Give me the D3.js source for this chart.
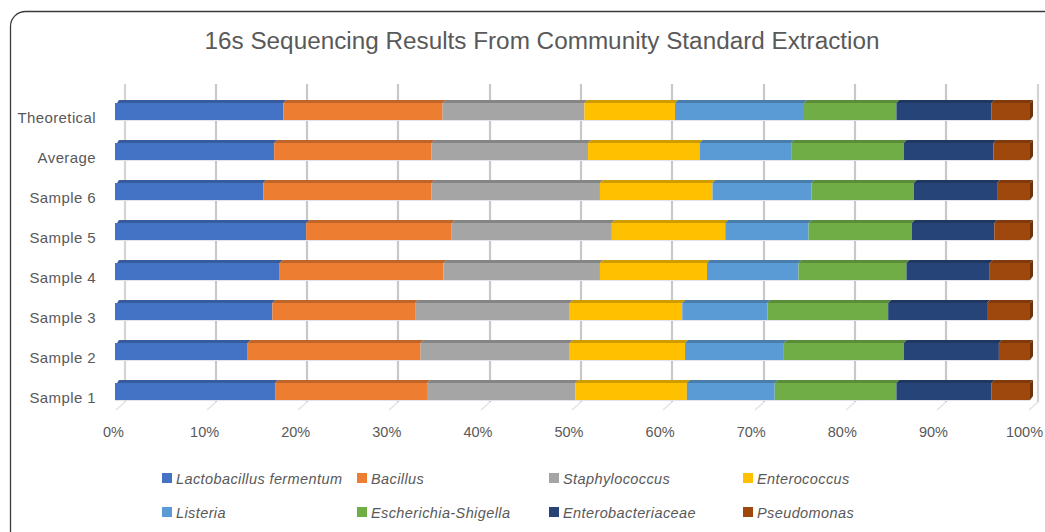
<!DOCTYPE html>
<html>
<head>
<meta charset="utf-8">
<script src="https://cdn.jsdelivr.net/npm/d3@7"></script>
<style>
  html, body { margin: 0; padding: 0; background: #fff; }
  svg { display: block; }
</style>
</head>
<body>
<svg id="chart" width="1045" height="532"></svg>
<script>
// ---- data ----
const categories = ["Theoretical", "Average", "Sample 6", "Sample 5", "Sample 4", "Sample 3", "Sample 2", "Sample 1"];
const seriesNames = ["Lactobacillus fermentum", "Bacillus", "Staphylococcus", "Enterococcus",
                     "Listeria", "Escherichia-Shigella", "Enterobacteriaceae", "Pseudomonas"];
// values per category (percent), in series order
const lactobacillus = [18.4, 17.4, 16.2, 20.9, 18.0, 17.2, 14.5, 17.5];
const bacillus      = [17.4, 17.2, 18.4, 15.9, 17.9, 15.6, 18.9, 16.6];
const staphylococcus= [15.5, 17.1, 18.4, 17.5, 17.1, 16.9, 16.3, 16.2];
const enterococcus  = [ 9.9, 12.2, 12.3, 12.4, 11.7, 12.3, 12.6, 12.2];
const listeria      = [14.1, 10.0, 10.8,  9.1, 10.0,  9.3, 10.8,  9.6];
const escherichia   = [10.1, 12.3, 11.2, 11.3, 11.8, 13.2, 13.1, 13.3];
const enterobact    = [10.4,  9.8,  9.1,  9.0,  9.1, 10.8, 10.4, 10.4];
const pseudomonas   = [ 4.2,  4.0,  3.6,  3.9,  4.4,  4.7,  3.4,  4.2];
const tickValues = [0, 10, 20, 30, 40, 50, 60, 70, 80, 90, 100];
const colors = ["#4472C4", "#ED7D31", "#A5A5A5", "#FFC000", "#5B9BD5", "#70AD47", "#264478", "#9E480E"];

const seriesValues = [lactobacillus, bacillus, staphylococcus, enterococcus, listeria, escherichia, enterobact, pseudomonas];
const table = categories.map((c, i) => {
  const row = { category: c };
  seriesNames.forEach((s, j) => row[s] = seriesValues[j][i]);
  return row;
});

const svg = d3.select("#chart");
const font = "'Liberation Sans', Arial, sans-serif";
const textColor = "#595959";

// border
svg.append("rect")
  .attr("x", 10.5).attr("y", 11.5).attr("width", 1060).attr("height", 560)
  .attr("rx", 15).attr("ry", 15)
  .attr("fill", "#fff").attr("stroke", "#3a3a3a").attr("stroke-width", 1.3);

// title
svg.append("text")
  .attr("x", 542).attr("y", 49)
  .attr("text-anchor", "middle")
  .attr("font-family", font).attr("font-size", 23).attr("fill", textColor)
  .attr("textLength", 675).attr("lengthAdjust", "spacingAndGlyphs")
  .text("16s Sequencing Results From Community Standard Extraction");

// scales
const x = d3.scaleLinear().domain([0, 100]).range([115, 1030]);
const xBack = d3.scaleLinear().domain([0, 100]).range([124.5, 1037.5]);
const xLabel = d3.scaleLinear().domain([0, 100]).range([113, 1024]);
const y = d3.scaleBand().domain(categories).range([90, 410]).padding(0);

// gridlines (back wall)
const grid = svg.append("g");
tickValues.forEach(v => {
  const gx = Math.round(xBack(v));
  grid.append("line")
    .attr("x1", gx).attr("x2", gx).attr("y1", 84).attr("y2", 402)
    .attr("stroke", (v === 0 || v === 100) ? "#d4d4d4" : "#c8c8c8").attr("stroke-width", 2.2);
  grid.append("line")
    .attr("x1", gx).attr("x2", gx - 9).attr("y1", 402).attr("y2", 410)
    .attr("stroke", "#e4e4e4").attr("stroke-width", 1.5);
});

// stacked bars
const stack = d3.stack().keys(seriesNames);
const stacked = stack(table);
const barH = 20, bevel = 3;
const bars = svg.append("g");
stacked.forEach((layer, si) => {
  const col = d3.color(colors[si]);
  const topCol = col.darker(0.6).formatHex();
  const sideCol = col.darker(1.0).formatHex();
  layer.forEach(d => {
    const cat = d.data.category;
    const top = y(cat) + (y.bandwidth() - barH) / 2;
    const x0 = x(d[0]), x1 = x(d[1]);
    // top face
    bars.append("polygon")
      .attr("points", [[x0 + (si === 0 ? 2 : 0), top + bevel], [x0 + bevel + (si === 0 ? 1 : 0), top], [x1 + bevel, top], [x1, top + bevel]].map(p => p.join(",")).join(" "))
      .attr("fill", topCol);
    // front face
    bars.append("rect")
      .attr("x", x0).attr("y", top + bevel)
      .attr("width", Math.max(0, x1 - x0)).attr("height", barH - bevel)
      .attr("fill", colors[si]);
    // right side face for final segment
    if (si === seriesNames.length - 1) {
      bars.append("polygon")
        .attr("points", [[x1, top + bevel], [x1 + bevel, top], [x1 + bevel, top + barH - bevel - 1], [x1, top + barH]].map(p => p.join(",")).join(" "))
        .attr("fill", sideCol);
    }
  });
});
categories.forEach(c => {
  const top = y(c) + (y.bandwidth() - barH) / 2;
  bars.append("line")
    .attr("x1", x(0)).attr("x2", x(100)).attr("y1", top + barH + 0.5).attr("y2", top + barH + 0.5)
    .attr("stroke", "#dfe3ea").attr("stroke-width", 1);
});

// category labels
svg.append("g").selectAll("text").data(categories).join("text")
  .attr("x", 96).attr("y", d => y(d) + y.bandwidth() / 2 + 13)
  .attr("text-anchor", "end")
  .attr("font-family", font).attr("font-size", 15).attr("letter-spacing", 0.4).attr("fill", textColor)
  .text(d => d);

// x axis labels
const axis = d3.axisBottom(xLabel).tickValues(tickValues).tickSize(0).tickFormat(d => d + "%");
const axG = svg.append("g").attr("transform", "translate(0,424)").call(axis);
axG.select(".domain").remove();
axG.selectAll("text").attr("font-family", font).attr("font-size", 14.5).attr("fill", textColor);

// legend
const legendCols = [162, 357, 549, 743];
const legendRows = [473, 507];
const leg = svg.append("g");
seriesNames.forEach((s, i) => {
  const lx = legendCols[i % 4], ly = legendRows[Math.floor(i / 4)];
  leg.append("rect").attr("x", lx).attr("y", ly).attr("width", 10).attr("height", 10).attr("fill", colors[i]);
  leg.append("text")
    .attr("x", lx + 14).attr("y", ly + 11)
    .attr("font-family", font).attr("font-size", 14.5).attr("font-style", "italic")
    .attr("letter-spacing", 0.4).attr("fill", textColor)
    .text(s);
});
</script>
</body>
</html>
